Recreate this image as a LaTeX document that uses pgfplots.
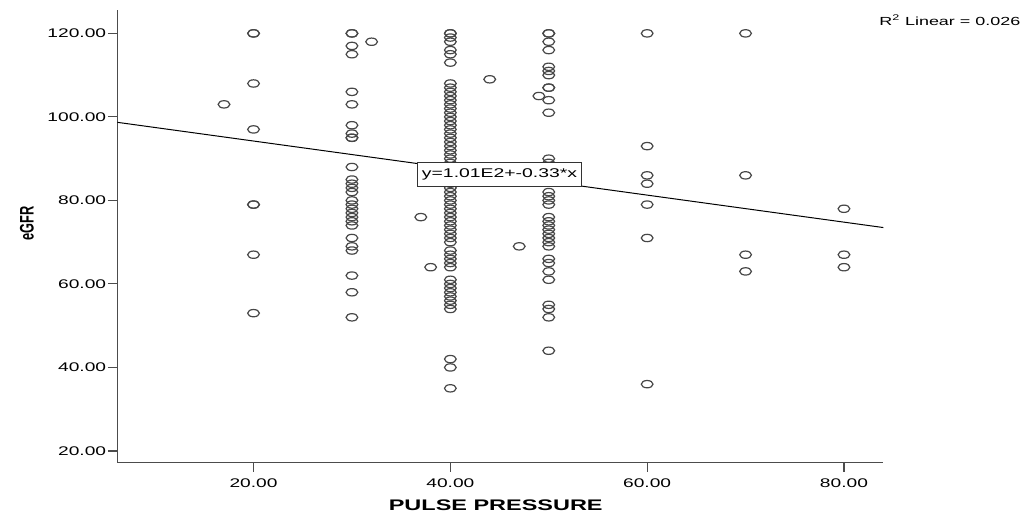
\documentclass[border=0pt]{standalone}
\usepackage{pgfplots}
\pgfplotsset{compat=1.18}
\usepackage{fontspec}
\setmainfont{Liberation Sans}[FakeStretch=1.53]
\newfontfamily\plainsans{Liberation Sans}

\begin{document}
\begin{tikzpicture}
\begin{axis}[
    scale only axis,
    width=574.5pt, height=339.5pt,
    xmin=6.16, xmax=84.0,
    ymin=17.2, ymax=125.6,
    axis lines=left,
    axis line style={-, black!70, line width=0.8pt},
    tick align=outside,
    major tick length=7pt,
    tick style={black!70, line width=0.8pt},
    xtick={20,40,60,80},
    ytick={20,40,60,80,100,120},
    /pgf/number format/fixed,
    /pgf/number format/fixed zerofill,
    /pgf/number format/precision=2,
    /pgf/number format/assume math mode=true,
    ticklabel style={font=\fontsize{9.4pt}{11pt}\selectfont},
    yticklabel style={anchor=east, inner xsep=1.2pt},
    xticklabel style={anchor=north, inner ysep=0pt, yshift=-5pt},
    xlabel={PULSE PRESSURE},
    ylabel={\scalebox{1}[1.53]{\plainsans\bfseries\fontsize{9.6pt}{11pt}\selectfont eGFR}},
    xlabel style={font=\bfseries\fontsize{11.5pt}{13pt}\selectfont,
        at={(axis description cs:0.494,-0.093)}, anchor=center},
    ylabel style={at={(axis description cs:-0.118,0.528)}, anchor=center},
    clip=false,
]
\addplot[only marks, mark=o, mark size=2.75pt,
    mark options={xscale=1.6, draw=black!72, line width=0.9pt}]
coordinates {
    % pulse pressure 20
    (20,120) (20,120) (20,108) (20,97) (20,79) (20,79) (20,67) (20,53)
    (17,103)
    % 30
    (30,120) (30,120) (30,117) (30,115) (30,106) (30,103) (30,98) (30,96)
    (30,95) (30,95) (30,88) (30,85) (30,84) (30,83) (30,82) (30,80)
    (30,79) (30,78) (30,77) (30,76) (30,75) (30,74) (30,71) (30,69)
    (30,68) (30,62) (30,58) (30,52)
    (32,118) (37,76) (38,64)
    % 40
    (40,120) (40,120) (40,119) (40,118) (40,116) (40,115) (40,113)
    (40,108) (40,107) (40,106) (40,105) (40,104) (40,103) (40,102) (40,101)
    (40,100) (40,99) (40,98) (40,97) (40,96) (40,95) (40,94) (40,93)
    (40,92) (40,91) (40,90) (40,89) (40,88) (40,87) (40,86) (40,85)
    (40,84) (40,83) (40,82) (40,81) (40,80) (40,79) (40,78) (40,77)
    (40,76) (40,75) (40,74) (40,73) (40,72) (40,71) (40,70)
    (40,68) (40,67) (40,66) (40,65) (40,64)
    (40,61) (40,60) (40,59) (40,58) (40,57) (40,56) (40,55) (40,54)
    (40,42) (40,40) (40,35)
    (44,109) (47,69) (49,105)
    % 50
    (50,120) (50,120) (50,118) (50,116) (50,112) (50,111) (50,110)
    (50,107) (50,107) (50,104) (50,101) (50,90) (50,89)
    (50,82) (50,81) (50,80) (50,79) (50,76) (50,75) (50,74) (50,73)
    (50,72) (50,71) (50,70) (50,69) (50,66) (50,65) (50,63) (50,61)
    (50,55) (50,54) (50,52) (50,44)
    % 60
    (60,120) (60,93) (60,86) (60,84) (60,79) (60,71) (60,36)
    % 70
    (70,120) (70,86) (70,67) (70,63)
    % 80
    (80,78) (80,67) (80,64)
};
% linear fit
\addplot[black, line width=0.75pt] coordinates {(6.16,98.7) (84.0,73.5)};
\coordinate (fitlabel) at (axis cs:45,86.2);
\node[anchor=east, font=\fontsize{8.8pt}{10pt}\selectfont]
    at (axis description cs:1.185,0.978) {R\textsuperscript{2} Linear = 0.026};
\end{axis}
% fit label drawn last so that it covers the markers
\node[draw=black!80, fill=white, line width=0.6pt, inner xsep=3.5pt,
    minimum height=18pt, font=\fontsize{9.5pt}{11pt}\selectfont]
    at (fitlabel) {y=1.01E2+-0.33*x};
\pgfresetboundingbox
\path (-88pt,-45.2pt) rectangle (683pt,347pt);
\end{tikzpicture}
\end{document}
